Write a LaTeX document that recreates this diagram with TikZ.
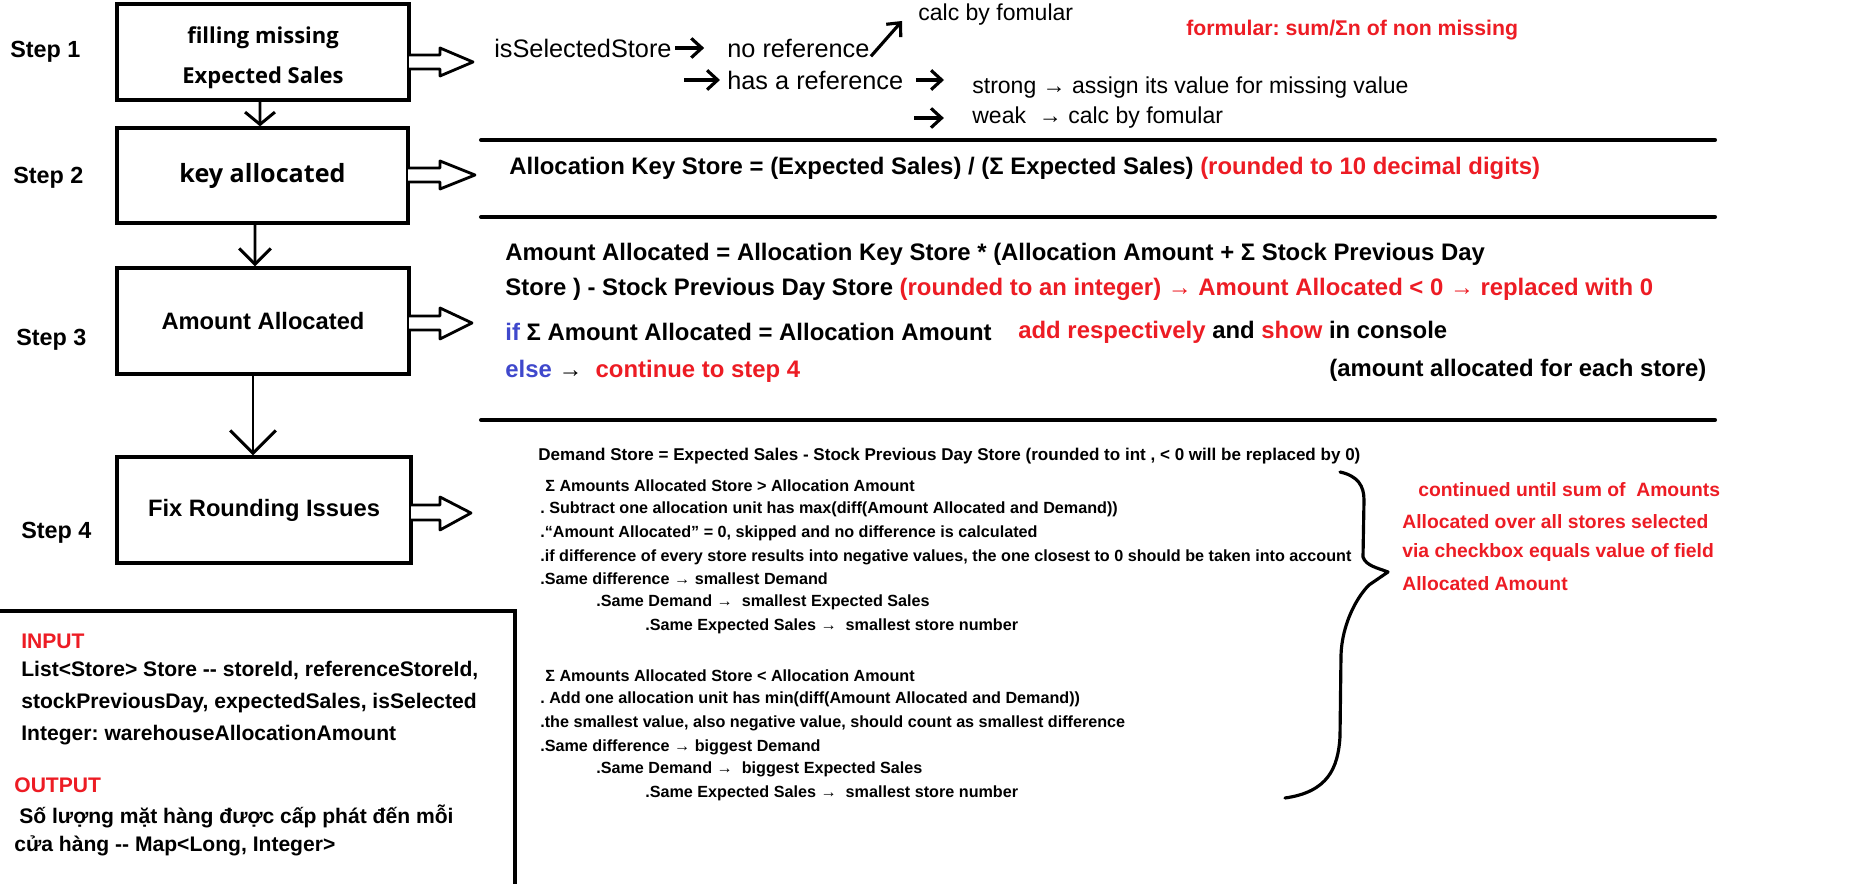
\documentclass[tikz,border=0pt]{standalone}
\usepackage{fontspec}
\setmainfont{Liberation Sans}
\newfontfamily\boxfont{Open Sans}
\usetikzlibrary{arrows.meta}
\definecolor{notered}{HTML}{ED1C24}
\definecolor{kwblue}{HTML}{3F48CC}
\frenchspacing

\tikzset{
  stepbox/.style={draw, line width=1.9pt, inner sep=0pt, align=center},
  txt/.style={anchor=west, inner sep=0pt},
  steplbl/.style={txt, font=\fontsize{13.3}{16}\selectfont\bfseries},
  lead/.style={txt, font=\fontsize{14.4}{17}\selectfont},
  sub/.style={txt, font=\fontsize{13.1}{16}\selectfont},
  eqn/.style={txt, font=\fontsize{13.6}{16}\selectfont\bfseries},
  fine/.style={txt, font=\fontsize{9.2}{11}\selectfont\bfseries},
  note/.style={txt, text=notered, font=\fontsize{11}{13}\selectfont\bfseries},
  iotxt/.style={txt, font=\fontsize{12}{14}\selectfont\bfseries},
  flow/.style={line width=1.7pt},
  handarrow/.style={line width=1.8pt, -{Straight Barb[length=6pt,width=11pt]}},
  hollow/.style={draw, fill=white, line width=1.6pt, line join=round},
  rule/.style={line width=2.3pt, line cap=round}
}

\begin{document}
\begin{tikzpicture}[x=0.02cm, y=-0.02cm]

\fill[white] (0,0) rectangle (1873,884);
\useasboundingbox (0,0) rectangle (1873,884);

% the four steps
\node[steplbl] (s1) at (10,52) {Step 1};
\node[steplbl] (s2) at (13,178) {Step 2};
\node[steplbl] (s3) at (16,340) {Step 3};
\node[steplbl] (s4) at (21,533) {Step 4};

\node[stepbox, minimum width=5.84cm, minimum height=1.92cm] (b1) at (263,52) {};
\node[align=center, inner sep=0pt, font={\boxfont\bfseries\fontsize{12.5}{22.8}\selectfont}] (b1t) at (263,58)
  {filling missing\\Expected Sales};
\node[stepbox, minimum width=5.82cm, minimum height=1.90cm, font={\boxfont\bfseries\fontsize{14.3}{17}\selectfont}] (b2) at (262.5,175.5)
  {key allocated};
\node[stepbox, minimum width=5.84cm, minimum height=2.12cm, font=\fontsize{13.5}{16}\selectfont\bfseries] (b3) at (263,321) {Amount Allocated};
\node[stepbox, minimum width=5.88cm, minimum height=2.12cm, font=\fontsize{13.5}{16}\selectfont\bfseries] (b4) at (264,510) {Fix Rounding Issues};

\draw[flow, -{Straight Barb[length=7pt,width=17pt]}] ([xshift=-0.06cm]b1.south) -- ([xshift=-0.05cm]b2.north);
\draw[flow, -{Straight Barb[length=9pt,width=18pt]}] ([xshift=-0.15cm]b2.south) -- ([xshift=-0.16cm]b3.north);
\draw[flow, -{Straight Barb[length=13pt,width=26pt]}] ([xshift=-0.2cm]b3.south) -- ([xshift=-0.22cm]b4.north);

% hollow arrows out of the boxes
\draw[hollow] (409,55) -- (440,55) -- (440,48) -- (473,62) -- (440,76) -- (440,69) -- (409,69);
\draw[hollow] (408,168) -- (440,168) -- (440,161) -- (475,175) -- (440,189) -- (440,182) -- (408,182);
\draw[hollow] (409,316) -- (440,316) -- (440,308) -- (472,323) -- (440,339) -- (440,330) -- (409,330);
\draw[hollow] (411,505) -- (440,505) -- (440,497) -- (471,513) -- (440,530) -- (440,520) -- (411,520);

% step 1
\node[lead] (sel) at (494,48) {isSelectedStore};
\node[lead] (noref) at (727,48) {no reference};
\node[lead] (hasref) at (727,80) {has a reference};
\node[sub] (calc1) at (918,15) {calc by fomular};
\node[sub] (strong) at (972,88) {strong → assign its value for missing value};
\node[sub] (weak) at (972,118) {weak\ \ → calc by fomular};
\node[txt, text=notered, font=\fontsize{12.1}{14}\selectfont\bfseries] (frm) at (1186,30) {formular: sum/Σn of non missing};
\coordinate (calcin) at (902,21);
\coordinate (hasin) at (684,80);
\coordinate (strongin) at (944,80);
\coordinate (weakin) at (914,118);

\draw[handarrow, shorten <=2pt, shorten >=13pt] (sel.east) -- (noref.west);
\draw[handarrow, shorten <=1pt] (noref.south east) -- (calcin);
\draw[handarrow, shorten >=4pt] (hasin) -- (hasref.west);
\draw[handarrow, shorten <=7pt] (hasref.east) -- (strongin);
\draw[handarrow, shorten >=16pt] (weakin) -- (weak.west);

\draw[rule] (481,140) -- (1715,140);

% step 2
\node[eqn] (key) at (509,168) {Allocation Key Store = (Expected Sales) / (Σ Expected Sales) \textcolor{notered}{(rounded to 10 decimal digits)}};

\draw[rule] (481,217) -- (1715,217);

% step 3
\node[eqn] (am1) at (505,254) {Amount Allocated = Allocation Key Store * (Allocation Amount + Σ Stock Previous Day};
\node[eqn] (am2) at (505,289) {Store ) - Stock Previous Day Store \textcolor{notered}{(rounded to an integer) → Amount Allocated < 0 → replaced with 0}};
\node[eqn] (am3) at (505,332) {\textcolor{kwblue}{if} Σ Amount Allocated = Allocation Amount};
\node[eqn] (am4) at (1018,332) {\textcolor{notered}{add respectively} and \textcolor{notered}{show} in console};
\node[eqn] (am5) at (505,371) {\textcolor{kwblue}{else} → \ \textcolor{notered}{continue to step 4}};
\node[eqn] (am6) at (1329,370) {(amount allocated for each store)};

\draw[rule] (481,420) -- (1715,420);

% step 4
\node[fine, font=\fontsize{9.7}{11}\selectfont\bfseries] (d0) at (538,456) {Demand Store = Expected Sales - Stock Previous Day Store (rounded to int , < 0 will be replaced by 0)};
\node[fine] (g1) at (545,486) {Σ Amounts Allocated Store > Allocation Amount};
\node[fine] (g2) at (540,509) {. Subtract one allocation unit has max(diff(Amount Allocated and Demand))};
\node[fine] (g3) at (540,533) {.“Amount Allocated” = 0, skipped and no difference is calculated};
\node[fine] (g4) at (540,557) {.if difference of every store results into negative values, the one closest to 0 should be taken into account};
\node[fine] (g5) at (540,579) {.Same difference → smallest Demand};
\node[fine] (g6) at (596,602) {.Same Demand → \ smallest Expected Sales};
\node[fine] (g7) at (645,626) {.Same Expected Sales → \ smallest store number};
\node[fine] (h1) at (545,676) {Σ Amounts Allocated Store < Allocation Amount};
\node[fine] (h2) at (540,699) {. Add one allocation unit has min(diff(Amount Allocated and Demand))};
\node[fine] (h3) at (540,723) {.the smallest value, also negative value, should count as smallest difference};
\node[fine] (h4) at (540,747) {.Same difference → biggest Demand};
\node[fine] (h5) at (596,769) {.Same Demand → \ biggest Expected Sales};
\node[fine] (h6) at (645,793) {.Same Expected Sales → \ smallest store number};

\draw[line width=1.8pt, line cap=round, line join=round]
  (1340,472) .. controls (1358,476) and (1364,486) .. (1364,500) -- (1363,557)
  .. controls (1366,566) and (1378,568) .. (1388,572) -- (1369,585)
  .. controls (1356,598) and (1342,625) .. (1341,655) -- (1340,737)
  .. controls (1338,768) and (1328,792) .. (1285,798);

\node[note] (c1) at (1418,490) {continued until sum of\ \ Amounts};
\node[note] (c2) at (1402,522) {Allocated over all stores selected};
\node[note] (c3) at (1402,553) {via checkbox equals value of field};
\node[note] (c4) at (1402,584) {Allocated Amount};

% input / output
\draw[rule] (-5,611) -- (515,611) -- (515,890);
\node[iotxt, text=notered] (inp) at (21,641) {INPUT};
\node[iotxt] (in1) at (21,670) {List<Store> Store -{}- storeId, referenceStoreId,};
\node[iotxt] (in2) at (21,703) {stockPreviousDay, expectedSales, isSelected};
\node[iotxt] (in3) at (21,735) {Integer: warehouseAllocationAmount};
\node[iotxt, text=notered] (outp) at (14,785) {OUTPUT};
\node[iotxt] (out1) at (19,816) {Số lượng mặt hàng được cấp phát đến mỗi};
\node[iotxt] (out2) at (14,846) {cửa hàng -{}- Map<Long, Integer>};

\end{tikzpicture}
\end{document}
